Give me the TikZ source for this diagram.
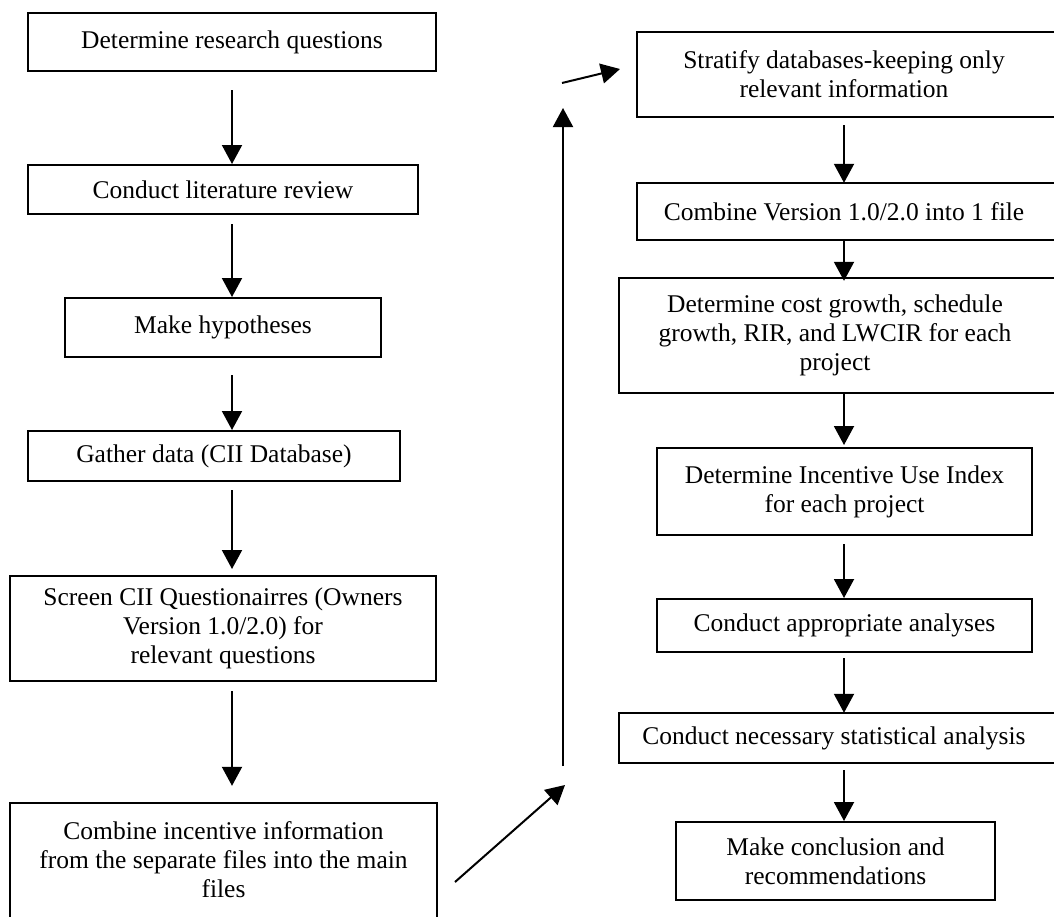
\documentclass[tikz,border=0pt]{standalone}
\usepackage{fontspec}
\setmainfont{Liberation Serif}
\usetikzlibrary{arrows.meta}
\begin{document}
\begin{tikzpicture}[x=1pt,y=-1pt,
  txt/.style={inner sep=0pt, align=center, font=\fontsize{25.5}{29}\selectfont},
  box/.style={txt, draw, line width=2pt},
  openbox/.style={txt, draw=none},
  frame/.style={line width=2pt},
  arr/.style={line width=2pt, -{Triangle[length=19pt,width=20pt]}}]
\useasboundingbox (0,0) rectangle (1054,916);
\clip (0,0) rectangle (1054,916);
% left column
\node[box, minimum width=408pt, minimum height=58pt] (L1) at (232,42) {Determine research questions};
\node[box, minimum width=390pt, minimum height=49pt] (L2) at (223,189.5) {Conduct literature review};
\node[box, minimum width=316pt, minimum height=59pt] (L3) at (223,327.5) {Make hypotheses};
\node[box, minimum width=372pt, minimum height=50pt] (L4) at (214,456) {Gather data (CII Database)};
\node[box, minimum width=426pt, minimum height=105pt] (L5) at (223,628.5) {Screen CII Questionairres (Owners\\Version 1.0/2.0) for\\relevant questions};
\node[openbox, minimum width=427pt, minimum height=114pt] (L6) at (223.5,860) {Combine incentive information\\from the separate files into the main\\files};
\draw[frame] ([yshift=-10pt]L6.south west) -- (L6.north west) -- (L6.north east) -- ([yshift=-10pt]L6.south east);
% right column
\node[openbox, minimum width=414pt, minimum height=85pt] (R1) at (844,74.5) {Stratify databases-keeping only\\relevant information};
\draw[frame] ([xshift=10pt]R1.north east) -- (R1.north west) -- (R1.south west) -- ([xshift=10pt]R1.south east);
\node[openbox, minimum width=414pt, minimum height=57pt] (R2) at (844,211.5) {Combine Version 1.0/2.0 into 1 file};
\draw[frame] ([xshift=10pt]R2.north east) -- (R2.north west) -- (R2.south west) -- ([xshift=10pt]R2.south east);
\node[openbox, minimum width=432pt, minimum height=115pt] (R3) at (835,335.5) {Determine cost growth, schedule\\growth, RIR, and LWCIR for each\\project};
\draw[frame] ([xshift=10pt]R3.north east) -- (R3.north west) -- (R3.south west) -- ([xshift=10pt]R3.south east);
\node[box, minimum width=375pt, minimum height=87pt] (R4) at (844.5,491.5) {Determine Incentive Use Index\\for each project};
\node[box, minimum width=375pt, minimum height=53pt] (R5) at (844.5,625.5) {Conduct appropriate analyses};
\node[openbox, minimum width=430pt, minimum height=50pt] (R6) at (834,738) {Conduct necessary statistical analysis};
\draw[frame] ([xshift=10pt]R6.north east) -- (R6.north west) -- (R6.south west) -- ([xshift=10pt]R6.south east);
\node[box, minimum width=319pt, minimum height=78pt] (R7) at (835.5,861) {Make conclusion and\\recommendations};
% left arrows
\draw[arr] ([yshift=-18pt]L1.south) -- (L2.north -| L1.south);
\draw[arr] ([yshift=-9pt]L2.south -| L1.south) -- (L3.north -| L1.south);
\draw[arr] ([yshift=-17pt]L3.south -| L1.south) -- (L4.north -| L1.south);
\draw[arr] ([yshift=-8pt]L4.south -| L1.south) -- ([yshift=6pt]L5.north -| L1.south);
\draw[arr] ([yshift=-9pt]L5.south -| L1.south) -- ([yshift=17pt]L6.north -| L1.south);
% right arrows
\draw[arr] ([yshift=-8pt]R1.south) -- (R2.north);
\draw[arr] (R2.south) -- ([yshift=-3pt]R3.north -| R1.south);
\draw[arr] (R3.south -| R1.south) -- ([yshift=2pt]R4.north -| R1.south);
\draw[arr] ([yshift=-8pt]R4.south -| R1.south) -- (R5.north -| R1.south);
\draw[arr] ([yshift=-5pt]R5.south -| R1.south) -- (R6.north -| R1.south);
\draw[arr] ([yshift=-7pt]R6.south -| R1.south) -- (R7.north -| R1.south);
% loop back
\coordinate (d1) at (455,882);
\coordinate (d2) at (565,785);
\coordinate (v1) at (563,766);
\coordinate (v2) at (563,108);
\coordinate (s1) at (562,83);
\coordinate (s2) at (620,69);
\draw[arr] (d1) -- (d2);
\draw[arr] (v1) -- (v2);
\draw[arr] (s1) -- (s2);
\end{tikzpicture}
\end{document}
